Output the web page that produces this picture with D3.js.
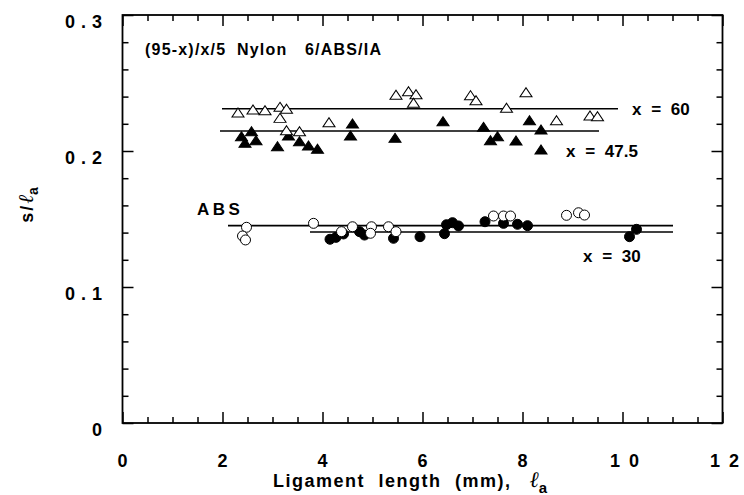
<!DOCTYPE html>
<html>
<head>
<meta charset="utf-8">
<script src="https://cdn.jsdelivr.net/npm/d3@7"></script>
<style>
  html, body { margin: 0; padding: 0; background: #fff; }
  svg { display: block; }
  text { font-family: "Liberation Sans", Arial, Helvetica, sans-serif; font-weight: bold; fill: #000; }
</style>
</head>
<body>
<svg id="chart" width="744" height="495"></svg>
<script>
// Ligament length (mm) and s/l_a for each blend
const openTriX = [2.31, 2.61, 2.85, 3.15, 3.28, 3.15, 3.28, 3.54, 4.13, 5.47, 5.72, 5.87, 5.82, 6.96, 7.07, 7.68, 8.07, 8.68, 9.35, 9.50];
const openTriY = [0.2279, 0.2301, 0.2296, 0.2321, 0.2307, 0.2240, 0.2149, 0.2142, 0.2208, 0.2410, 0.2436, 0.2414, 0.2351, 0.2407, 0.2370, 0.2314, 0.2429, 0.2223, 0.2257, 0.2252];

const fillTriX = [2.38, 2.45, 2.58, 2.67, 3.10, 3.32, 3.54, 3.72, 3.90, 4.60, 4.56, 5.45, 6.41, 7.22, 7.36, 7.50, 7.87, 8.14, 8.37, 8.37];
const fillTriY = [0.2105, 0.2057, 0.2142, 0.2076, 0.2032, 0.2110, 0.2068, 0.2037, 0.2013, 0.2199, 0.2110, 0.2093, 0.2215, 0.2174, 0.2076, 0.2105, 0.2074, 0.2223, 0.2154, 0.2007];

const openCircX = [2.48, 2.40, 2.46, 3.82, 4.38, 4.60, 4.98, 4.96, 5.32, 5.47, 7.42, 7.62, 7.76, 8.88, 9.12, 9.24];
const openCircY = [0.1439, 0.1375, 0.1346, 0.1468, 0.1407, 0.1443, 0.1443, 0.1395, 0.1443, 0.1407, 0.1522, 0.1522, 0.1522, 0.1527, 0.1546, 0.1529];

const fillCircX = [4.15, 4.27, 4.42, 4.74, 4.84, 5.42, 5.95, 6.44, 6.48, 6.60, 6.72, 7.25, 7.62, 7.90, 8.10, 10.14, 10.28];
const fillCircY = [0.1351, 0.1365, 0.1390, 0.1407, 0.1382, 0.1358, 0.1370, 0.1392, 0.1458, 0.1473, 0.1449, 0.1480, 0.1468, 0.1461, 0.1451, 0.1370, 0.1424];

// Horizontal mean lines: level, start and end (mm)
const fitLevel = [0.2311, 0.2147, 0.1451, 0.1404];
const fitStart = [1.99, 1.95, 2.11, 3.75];
const fitEnd   = [9.91, 9.53, 11.01, 11.01];

// Axis ticks
const xMajor = [0, 2, 4, 6, 8, 10, 12];
const xMinor = d3.range(0.5, 12, 0.5).filter(v => v % 2 !== 0);
const yMajor = [0, 0.1, 0.2, 0.3];
const yMinor = d3.range(0.02, 0.3, 0.02).filter(v => Math.abs(v * 10 - Math.round(v * 10)) > 1e-6);
const yTickText = ["0", "0.1", "0.2", "0.3"];

const svg = d3.select("#chart");
const plotL = 122.5, plotR = 722.5, plotT = 15, plotB = 423;
const x = d3.scaleLinear().domain([0, 12]).range([plotL, plotR]);
const y = d3.scaleLinear().domain([0, 0.3]).range([plotB, plotT]);

// Ticks pointing inward on all four sides
function ticks(axisGen, values, size, transform) {
  svg.append("g")
    .attr("transform", transform)
    .call(axisGen.tickValues(values).tickSize(size).tickSizeOuter(0).tickFormat(""))
    .call(g => g.select(".domain").remove())
    .selectAll("line").attr("stroke", "#000").attr("stroke-width", 1.5);
}
ticks(d3.axisBottom(x), xMajor, -11, `translate(0,${plotB})`);
ticks(d3.axisBottom(x), xMinor, -6, `translate(0,${plotB})`);
ticks(d3.axisTop(x), xMajor, -11, `translate(0,${plotT})`);
ticks(d3.axisTop(x), xMinor, -6, `translate(0,${plotT})`);
ticks(d3.axisLeft(y), yMajor, -11, `translate(${plotL},0)`);
ticks(d3.axisLeft(y), yMinor, -6, `translate(${plotL},0)`);
ticks(d3.axisRight(y), yMajor, -11, `translate(${plotR},0)`);
ticks(d3.axisRight(y), yMinor, -6, `translate(${plotR},0)`);

svg.append("rect")
  .attr("x", plotL).attr("y", plotT)
  .attr("width", plotR - plotL).attr("height", plotB - plotT)
  .attr("fill", "none").attr("stroke", "#000").attr("stroke-width", 1.8);

// Spaced-out characters, one tspan each, so no trailing gap is added
function spaced(sel, str, gap) {
  String(str).split("").forEach((ch, i) => {
    sel.append("tspan").attr("dx", i === 0 ? 0 : gap).text(ch);
  });
}

// Tick labels
svg.append("g").selectAll("text").data(xMajor).join("text")
  .attr("x", d => x(d) + (d >= 10 ? 2 : 0))
  .attr("y", 467)
  .attr("text-anchor", "middle")
  .attr("font-size", 18)
  .each(function (d) { spaced(d3.select(this), d, 9); });

svg.append("g").selectAll("text").data(yMajor).join("text")
  .attr("x", 102)
  .attr("y", d => y(d) + 13)
  .attr("text-anchor", "end")
  .attr("font-size", 18)
  .each(function (d, i) { spaced(d3.select(this), yTickText[i], 6); });

// Axis titles
const xt = svg.append("text")
  .attr("x", 273).attr("y", 487)
  .attr("font-size", 18)
  .attr("letter-spacing", 1.5)
  .attr("word-spacing", 7);
xt.append("tspan").text("Ligament length (mm),");
xt.append("tspan").attr("dx", 18).attr("font-style", "italic").attr("font-weight", "normal")
  .attr("letter-spacing", 0)
  .attr("font-family", "'DejaVu Serif', 'Liberation Serif', serif").attr("font-size", 22).text("ℓ");
xt.append("tspan").attr("dy", 6).attr("letter-spacing", 0).attr("font-size", 15).text("a");

const yt = svg.append("text")
  .attr("transform", "translate(33,205) rotate(-90)")
  .attr("text-anchor", "middle")
  .attr("font-size", 18);
yt.append("tspan").attr("letter-spacing", 2).text("s/");
yt.append("tspan").attr("font-style", "italic").attr("font-weight", "normal")
  .attr("font-family", "'DejaVu Serif', 'Liberation Serif', serif").attr("font-size", 21).text("ℓ");
yt.append("tspan").attr("dy", 5).attr("font-size", 14).text("a");

// Mean lines
svg.append("g").selectAll("line").data(fitLevel).join("line")
  .attr("x1", (d, i) => x(fitStart[i]))
  .attr("x2", (d, i) => x(fitEnd[i]))
  .attr("y1", d => y(d)).attr("y2", d => y(d))
  .attr("stroke", "#000").attr("stroke-width", 1.6);

// Markers
const tri = d3.symbol().type(d3.symbolTriangle).size(52);
function triangles(xs, ys, filled) {
  svg.append("g").selectAll("path").data(xs).join("path")
    .attr("d", tri)
    .attr("transform", (d, i) => `translate(${x(d)},${y(ys[i]) + 1}) scale(1.1,0.95)`)
    .attr("fill", filled ? "#000" : "#fff")
    .attr("stroke", "#000").attr("stroke-width", 1);
}
function circles(xs, ys, filled) {
  svg.append("g").selectAll("circle").data(xs).join("circle")
    .attr("cx", d => x(d)).attr("cy", (d, i) => y(ys[i]))
    .attr("r", 5)
    .attr("fill", filled ? "#000" : "#fff")
    .attr("stroke", "#000").attr("stroke-width", 1);
}
triangles(fillTriX, fillTriY, true);
triangles(openTriX, openTriY, false);
circles(fillCircX, fillCircY, true);
circles(openCircX, openCircY, false);

// Annotations
const ann = svg.append("g").attr("font-size", 16).attr("letter-spacing", 1.2);
ann.append("text").attr("x", 145).attr("y", 55).text("(95-x)/x/5");
ann.append("text").attr("x", 237).attr("y", 55).text("Nylon");
ann.append("text").attr("x", 305).attr("y", 55).text("6/ABS/IA");

const lab = svg.append("g").attr("font-size", 17).attr("word-spacing", 5);
lab.append("text").attr("x", 632).attr("y", 115).text("x = 60");
lab.append("text").attr("x", 566).attr("y", 157).text("x = 47.5");
lab.append("text").attr("x", 583).attr("y", 262).text("x = 30");
lab.append("text").attr("x", 197).attr("y", 215).attr("letter-spacing", 3.5).attr("word-spacing", 0).text("ABS");
</script>
</body>
</html>
